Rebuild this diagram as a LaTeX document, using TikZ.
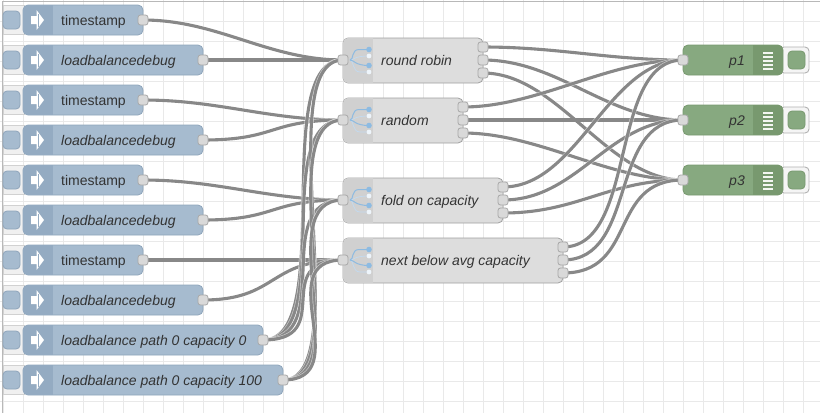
\documentclass[tikz,border=0pt]{standalone}
\usepackage{fontspec}
\setmainfont{Liberation Sans}
\usetikzlibrary{backgrounds}
\definecolor{inj}{HTML}{A6BBCF}
\definecolor{injd}{HTML}{94ABC2}
\definecolor{injb}{HTML}{8FA5BB}
\definecolor{fun}{HTML}{DDDDDD}
\definecolor{fund}{HTML}{D0D0D0}
\definecolor{funb}{HTML}{A0A0A0}
\definecolor{dbg}{HTML}{87A980}
\definecolor{dbgd}{HTML}{78996F}
\definecolor{wire}{HTML}{888888}
\definecolor{txt}{HTML}{333333}
\definecolor{portc}{HTML}{D9D9D9}
\definecolor{portb}{HTML}{A8A8A8}
\definecolor{icona}{HTML}{8DBBE2}
\definecolor{iconb}{HTML}{C2DAF0}
\definecolor{iconc}{HTML}{EEF5FB}
\definecolor{gridc}{HTML}{E9E9E9}
\tikzset{
 x=1pt,y=-1pt,
 portbox/.style={draw=portb,fill=portc,rounded corners=2.5pt,minimum size=10pt,inner sep=0pt,line width=.8pt},
 wireline/.style={draw=wire,line width=3.1pt},
 wirecase/.style={draw=white,line width=4.4pt,draw opacity=.55},
 label/.style={font=\fontsize{14}{16}\selectfont,text=txt,inner sep=0pt},
 itl/.style={label,font=\fontsize{14}{16}\selectfont\itshape},
}
\newcommand{\wirecurve}[2]{%
 \draw[wirecase] (#1.center) .. controls +(75,0) and +(-75,0) .. (#2.center);
 \draw[wireline] (#1.center) .. controls +(75,0) and +(-75,0) .. (#2.center);}
% name, y, right edge, text, style
\newcommand{\injectnode}[5]{%
 \filldraw[draw=black!18,fill=black!6,line width=.6pt] (3,#2-14.5) rectangle (24,#2+14.5);
 \filldraw[draw=injb,fill=inj,line width=.8pt,rounded corners=4pt] (3,#2-9) rectangle (20,#2+9);
 \filldraw[draw=injb,fill=inj,line width=.8pt,rounded corners=5pt] (23,#2-15) rectangle (#3,#2+15);
 \begin{scope}
 \clip[rounded corners=5pt] (23,#2-15) rectangle (#3,#2+15);
 \fill[injd] (23,#2-15) rectangle (53,#2+15);
 \end{scope}
 \fill[white] (31,#2-4) -- (36.5,#2-4) -- (36.5,#2-10) -- (44,#2) -- (36.5,#2+10) -- (36.5,#2+4) -- (31,#2+4) -- cycle;
 \draw[injd,line width=.8pt] (38,#2-6.5) -- (38,#2+6.5);
 \node[#5,anchor=base west] (#1t) at (61,#2+5) {#4};
 \node[portbox] (#1) at (#3,#2) {};
}
% name,y,right,text
\newcommand{\funcnode}[4]{%
 \filldraw[draw=funb,fill=fun,line width=.8pt,rounded corners=5pt] (343,#2-22) rectangle (#3,#2+23);
 \begin{scope}
 \clip[rounded corners=5pt] (343,#2-22) rectangle (#3,#2+23);
 \fill[fund] (343,#2-22) rectangle (373,#2+23);
 \end{scope}
 \draw[iconb,line width=.7pt] (350,#2) .. controls (354,#2) and (352,#2+12) .. (360,#2+12) -- (369,#2+12);
 \draw[iconb,line width=.7pt] (350,#2) .. controls (354,#2) and (354,#2-4) .. (369,#2-4);
 \draw[icona,line width=1pt] (350,#2) .. controls (354,#2) and (351,#2-10.5) .. (359,#2-10.5) -- (369,#2-10.5);
 \draw[icona,line width=1pt] (350,#2) .. controls (354,#2) and (355,#2+5.5) .. (369,#2+5.5);
 \fill[icona] (369,#2-10.5) circle (2.8) (369,#2+5.5) circle (2.8);
 \fill[iconc] (369,#2-4) circle (2.4) (369,#2+12) circle (2.4);
 \node[itl,anchor=base west] (#1t) at (381,#2+5) {#4};
 \node[portbox] (#1i) at (343,#2) {};
 \node[portbox] (#1a) at (#3,#2-13) {};
 \node[portbox] (#1b) at (#3,#2) {};
 \node[portbox] (#1c) at (#3,#2+13) {};
}
\newcommand{\debugnode}[3]{%
 \filldraw[draw=black!30,fill=white!96!black,line width=.9pt,rounded corners=4pt] (780,#2-13) rectangle (809,#2+13);
 \filldraw[draw=dbgd,fill=dbg,line width=.8pt,rounded corners=4pt] (788,#2-9) rectangle (805,#2+9);
 \filldraw[draw=dbgd,fill=dbg,line width=.8pt,rounded corners=5pt] (683,#2-15) rectangle (783,#2+15);
 \begin{scope}
 \clip[rounded corners=5pt] (683,#2-15) rectangle (783,#2+15);
 \fill[dbgd] (753,#2-15) rectangle (783,#2+15);
 \end{scope}
 \foreach \d in {-8,-4,0,4,8} \draw[white!90!dbg,line width=1.1pt] (763,#2+\d+1) -- (773,#2+\d+1);
 \node[itl,anchor=base east] (#1t) at (745,#2+5) {#3};
 \node[portbox] (#1) at (683,#2) {};
}
\begin{document}
\begin{tikzpicture}
\useasboundingbox (0,0) rectangle (820,413);

\injectnode{a}{20}{143}{timestamp}{label}
\injectnode{b}{60}{203}{loadbalancedebug}{itl}
\injectnode{c}{100}{143}{timestamp}{label}
\injectnode{d}{140}{203}{loadbalancedebug}{itl}
\injectnode{e}{180}{143}{timestamp}{label}
\injectnode{f}{220}{203}{loadbalancedebug}{itl}
\injectnode{g}{260}{143}{timestamp}{label}
\injectnode{h}{300}{203}{loadbalancedebug}{itl}
\injectnode{m}{340}{263}{loadbalance path 0 capacity 0}{itl}
\injectnode{n}{380}{283}{loadbalance path 0 capacity 100}{itl}

\funcnode{rr}{60}{483}{round robin}
\funcnode{rd}{120}{463}{random}
\funcnode{fo}{200}{503}{fold on capacity}
\funcnode{nx}{260}{563}{next below avg capacity}

\debugnode{pa}{60}{p1}
\debugnode{pb}{120}{p2}
\debugnode{pc}{180}{p3}

\begin{scope}[on background layer]
\fill[white] (0,0) rectangle (820,413);
\foreach \v in {3,23,...,820} \draw[gridc,line width=1pt] (\v,0) -- (\v,413);
\foreach \v in {21,41,...,413} \draw[gridc,line width=1pt] (0,\v) -- (820,\v);
\draw[black!28,line width=1pt] (2.5,413) -- (2.5,1) -- (820,1);
\wirecurve{a}{rri}
\wirecurve{b}{rri}
\wirecurve{c}{rdi}
\wirecurve{d}{rdi}
\wirecurve{e}{foi}
\wirecurve{f}{foi}
\wirecurve{g}{nxi}
\wirecurve{h}{nxi}
\foreach \s in {m,n} \foreach \t in {rri,rdi,foi,nxi} {\wirecurve{\s}{\t}}
\foreach \s in {rr,rd,fo,nx} {
 \wirecurve{\s a}{pa}
 \wirecurve{\s b}{pb}
 \wirecurve{\s c}{pc}
}
\end{scope}
\end{tikzpicture}
\end{document}
